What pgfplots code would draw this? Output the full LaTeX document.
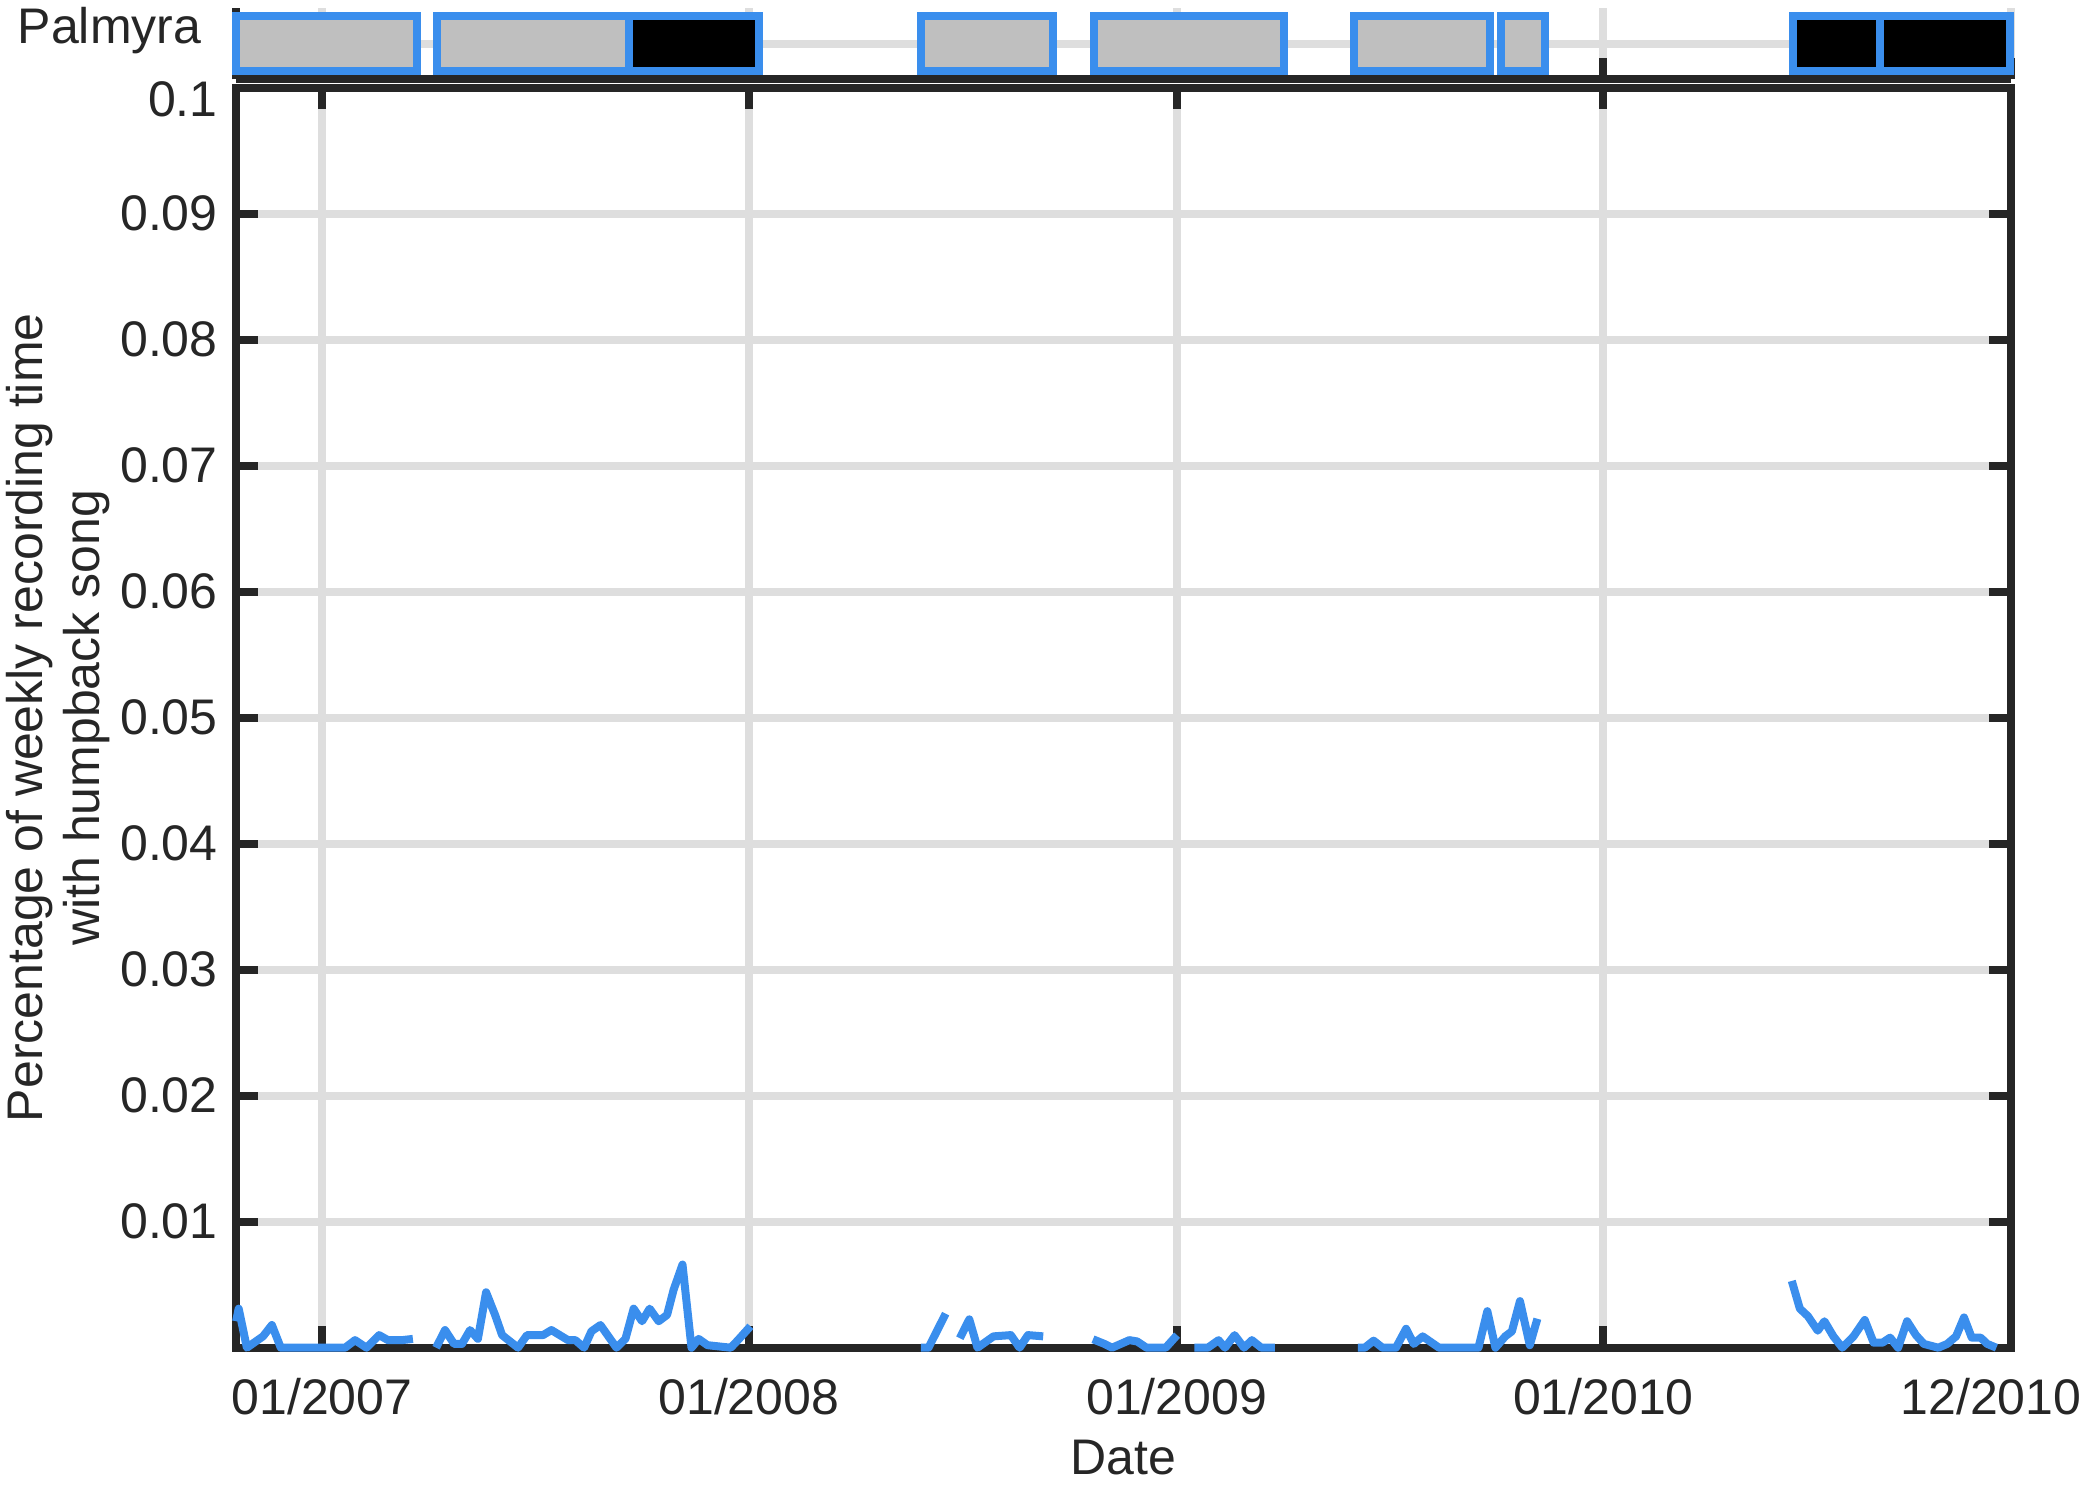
\documentclass[border=0pt]{standalone}
\usepackage{pgfplots}
\pgfplotsset{compat=1.18}
\usepackage{pgfplotstable}
\usepackage{fontspec}
\setmainfont{Liberation Sans}
\definecolor{axdark}{RGB}{38,38,38}
\definecolor{gridgrey}{RGB}{222,222,222}
\definecolor{lineblue}{RGB}{58,142,237}
\definecolor{bargrey}{RGB}{191,191,191}

% x = days since 01/01/2007, y = fraction of weekly recording time with song
\pgfplotstableread{
x y
-73.5 0.0021
-71.3 0.0031
-64.3 0
-50.5 0.0009
-42.9 0.0018
-35.3 0
-4.8 0
19.7 0
28.2 0.0006
38.0 0
48.8 0.0010
56.4 0.0006
68.4 0.0006
77.7 0.0007
nan nan
97.5 0
105.2 0.0014
112.9 0.0003
119.7 0.0003
126.6 0.0014
133.3 0.0007
140.3 0.0044
148.0 0.0026
154.0 0.0010
167.6 0
175.3 0.0010
189.0 0.0010
196.2 0.0014
210.4 0.0006
216.7 0.0006
224.1 0
230.4 0.0013
238.1 0.0018
251.8 0
259.5 0.0007
266.5 0.0031
273.7 0.0021
280.2 0.0031
287.9 0.0021
295.1 0.0026
300.7 0.0046
308.3 0.0066
316.0 0
322.1 0.0007
329.7 0.0002
349.6 0
355.7 0.0006
366.4 0.0017
nan nan
512.1 0
518.7 0
533.4 0.0027
nan nan
545.5 0.00075
553.6 0.00225
560.6 0
574.3 0.0009
589.1 0.0010
596.6 0
603.8 0.0010
616.8 0.0009
nan nan
659.4 0.00067
669.2 0.0003
675.7 0
690.5 0.0006
697.1 0.0005
705.2 0
721.6 0
731.3 0.0010
nan nan
746.2 0
757.6 0
766.8 0.0006
772.3 0
780.5 0.0010
788.6 0
795.3 0.0006
803.4 0
814.9 0
nan nan
886.0 0
891.8 0
899.4 0.00056
907.0 0
918.5 0
927.2 0.0015
933.8 0.0003
941.4 0.0009
955.4 0
989.1 0
996.7 0.0029
1003.6 0
1012.0 0.0009
1017.7 0.0013
1024.6 0.0037
1033.0 0.0002
1039.5 0.0023
nan nan
1257.1 0.0053
1264.0 0.0031
1270.9 0.0025
1279.3 0.00135
1285.0 0.0021
1292.7 0.0009
1300.3 0
1309.9 0.0009
1319.5 0.0022
1327.1 0.0004
1334.7 0.0004
1341.2 0.0008
1348.0 0
1355.7 0.0021
1363.3 0.0010
1370.1 0.0003
1382.4 0
1390.0 0.0003
1397.6 0.0009
1404.4 0.0024
1411.0 0.0008
1418.6 0.0008
1424.3 0.0003
1432.1 0
}\songdata

\pgfplotsset{
  common/.style={
    scale only axis, width=443.75pt,
    xmin=-73.6, xmax=1444.6,
    xtick={0,365,731,1096,1444.6},
    grid=major,
    major grid style={line width=2pt, draw=gridgrey},
    axis line style={line width=2pt, draw=axdark},
    major tick style={line width=2pt, draw=axdark},
    major tick length=5.4pt,
    tick align=inside,
    set layers,
    clip=false,
    tick label style={font=\fontsize{12.5}{15}\selectfont, text=axdark},
  },
  strip bar/.style={draw=lineblue, line width=2pt, line join=miter, fill=#1},
}

\begin{document}
\begin{tikzpicture}

\begin{axis}[common, at={(0,0)}, anchor=south west, height=315pt,
  ymin=0, ymax=0.1,
  ytick={0.01,0.02,0.03,0.04,0.05,0.06,0.07,0.08,0.09},
  yticklabels={0.01,0.02,0.03,0.04,0.05,0.06,0.07,0.08,0.09},
  extra y ticks={0.1},
  extra y tick labels={0.1},
  extra y tick style={yticklabel style={yshift=-3pt}},
  xticklabels={01/2007,01/2008,01/2009,01/2010,\makebox[0pt]{12/2010\hspace*{10pt}}},
  xticklabel style={anchor=north, inner sep=0pt, yshift=-7.5pt},
  yticklabel style={anchor=east, inner sep=0pt, xshift=-4.4pt},
  xlabel={Date},
  xlabel style={at={(axis description cs:0.5,0)}, anchor=north, inner sep=0pt, yshift=-23pt, text=axdark, font=\fontsize{12.5}{15}\selectfont},
  ylabel={Percentage of weekly recording time\\with humpback song},
  ylabel style={at={(axis description cs:-0.13,0.5)}, anchor=north, inner sep=0pt, align=center, text=axdark, font=\fontsize{12.5}{14.4}\selectfont},
  unbounded coords=jump,
]
\addplot[lineblue, line width=2pt, line join=round, mark=none] table[x=x, y=y] {\songdata};
\end{axis}

\begin{axis}[common, at={(0,317.05pt)}, anchor=south west, height=17.875pt,
  ymin=0, ymax=1, ytick={0.5}, yticklabels={Palmyra},
  xticklabels={},
  axis x line*=bottom, axis y line*=left,
  yticklabel style={anchor=base east, inner sep=0pt, xshift=-8.5pt},
]
\addplot[strip bar=bargrey] coordinates {(-73.6,0.12) (81.3,0.12) (81.3,0.887) (-73.6,0.887)} -- cycle;
\addplot[strip bar=bargrey] coordinates {(98.4,0.12) (262.2,0.12) (262.2,0.887) (98.4,0.887)} -- cycle;
\addplot[strip bar=black] coordinates {(262.2,0.12) (373.8,0.12) (373.8,0.887) (262.2,0.887)} -- cycle;
\addplot[strip bar=bargrey] coordinates {(512.3,0.12) (625.2,0.12) (625.2,0.887) (512.3,0.887)} -- cycle;
\addplot[strip bar=bargrey] coordinates {(660.3,0.12) (822.5,0.12) (822.5,0.887) (660.3,0.887)} -- cycle;
\addplot[strip bar=bargrey] coordinates {(882.7,0.12) (999.0,0.12) (999.0,0.887) (882.7,0.887)} -- cycle;
\addplot[strip bar=bargrey] coordinates {(1008.4,0.12) (1046.0,0.12) (1046.0,0.887) (1008.4,0.887)} -- cycle;
\addplot[strip bar=black] coordinates {(1258.2,0.12) (1332.6,0.12) (1332.6,0.887) (1258.2,0.887)} -- cycle;
\addplot[strip bar=black] coordinates {(1332.6,0.12) (1443.8,0.12) (1443.8,0.887) (1332.6,0.887)} -- cycle;
\end{axis}

\pgfresetboundingbox
\path (-59pt,-36.325pt) rectangle (461pt,336.925pt);
\end{tikzpicture}
\end{document}
